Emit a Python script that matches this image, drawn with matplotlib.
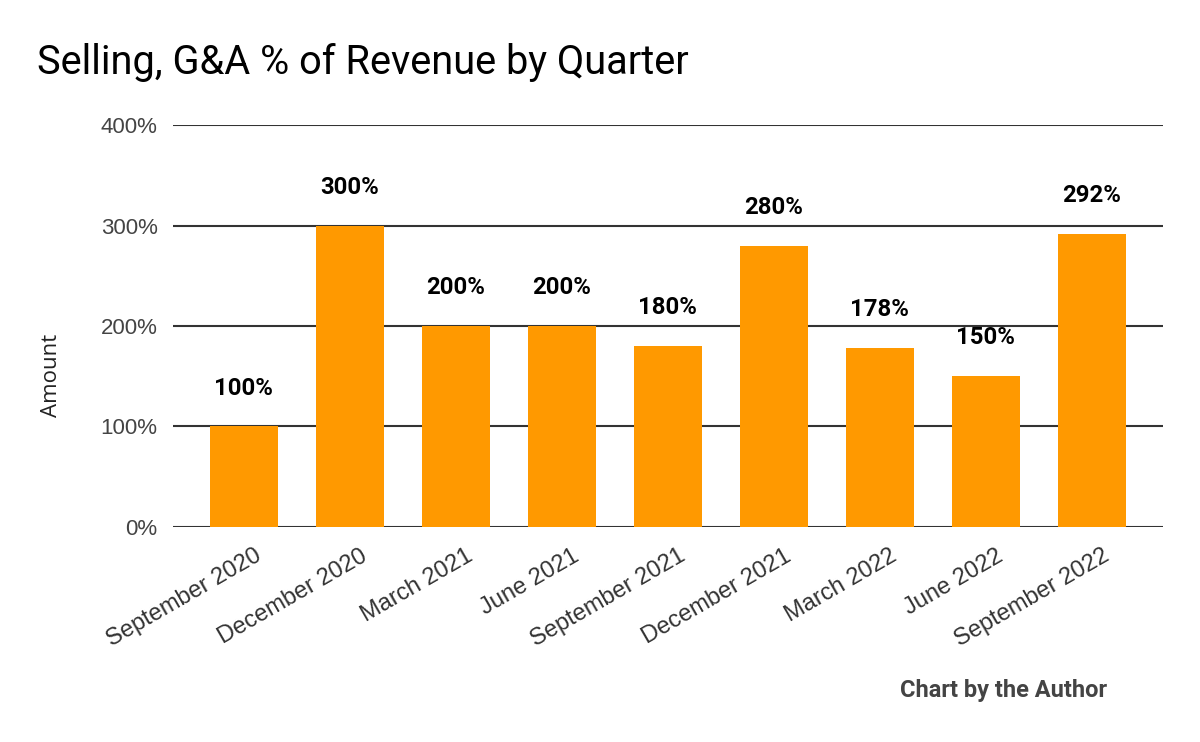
import matplotlib
matplotlib.use("Agg")
import matplotlib.pyplot as plt
import matplotlib.transforms as mtransforms

categories = ["September 2020", "December 2020", "March 2021", "June 2021",
              "September 2021", "December 2021", "March 2022", "June 2022",
              "September 2022"]
values = [100, 300, 200, 200, 180, 280, 178, 150, 292]
yticks = [0, 100, 200, 300, 400]

plt.rcParams['font.family'] = ['Roboto', 'DejaVu Sans']
TICKFONT = ['Liberation Sans', 'DejaVu Sans']

fig = plt.figure(figsize=(12, 7.42), dpi=100)
ax = fig.add_axes([0.144, 0.2898, 0.825, 0.5417])

x = list(range(len(categories)))
ax.bar(x, values, width=0.64, color="#FF9900", zorder=3)
for xi, v in zip(x, values):
    ax.annotate(f"{v}%", xy=(xi, v), xytext=(0, 27.7), textcoords="offset points",
                ha="center", va="center", fontsize=17.2, fontweight="bold",
                color="#000000")

ax.set_xlim(-0.67, 8.67)
ax.set_ylim(0, 400)
ax.set_yticks(yticks)
ax.set_yticklabels([f"{t}%" for t in yticks], fontsize=16, color="#444444",
                   family=TICKFONT)
ax.yaxis.grid(True, color="#333333", linewidth=1.5, zorder=0)
ax.set_xticks(x)
ax.set_xticklabels(categories, rotation=30, ha="right", va="top",
                   rotation_mode="anchor", fontsize=17, color="#333333",
                   family=TICKFONT)
ax.tick_params(axis="y", length=0, pad=11)
ax.tick_params(axis="x", length=0, pad=13)
offset = mtransforms.ScaledTranslation(10 / 100, 0, fig.dpi_scale_trans)
for lbl in ax.get_xticklabels():
    lbl.set_transform(lbl.get_transform() + offset)
for s in ax.spines.values():
    s.set_visible(False)

fig.text(51 / 1200, 1 - 375 / 742, "Amount", fontsize=16, color="#222222",
         rotation=90, ha="center", va="center", family=['Open Sans', 'DejaVu Sans'])
fig.text(37 / 1200, 1 - 62 / 742, "Selling, G&A % of Revenue by Quarter",
         fontsize=28.6, color="#000000", va="center", ha="left")
fig.text(1107 / 1200, 1 - 691 / 742, "Chart by the Author", fontsize=17,
         fontweight="bold", color="#444444", ha="right", va="center")

fig.savefig("out.png", dpi=100)
